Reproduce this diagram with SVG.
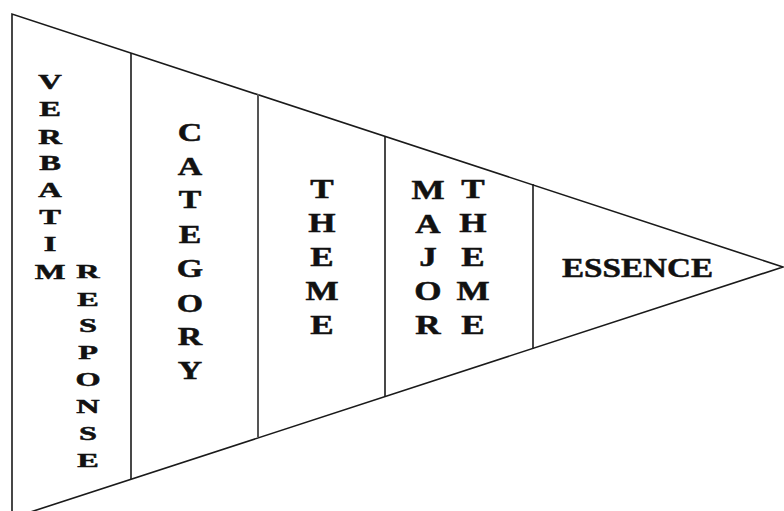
<svg xmlns="http://www.w3.org/2000/svg" width="784" height="511" viewBox="0 0 784 511">
<style>
.ln{fill:none;stroke:#1a1a1a;stroke-width:1.6;stroke-linejoin:miter}
.t{font-family:"Liberation Serif","Times New Roman",serif;font-weight:bold;fill:#111;stroke:#111;stroke-width:0.5;text-anchor:middle}
.s1{font-size:21px}
.s2{font-size:19px}
.s3{font-size:26px}
.s4{font-size:27px}
</style>
<rect width="784" height="511" fill="#fff"/>
<g id="connectors">
<polyline class="ln" points="12,530 12,14 783,267 12,518"/>
<line class="ln" x1="131" y1="53" x2="131" y2="479"/>
<line class="ln" x1="258" y1="94" x2="258" y2="437" style="stroke:#555;stroke-width:2"/>
<line class="ln" x1="385" y1="136" x2="385" y2="397"/>
<line class="ln" x1="533" y1="184" x2="533" y2="349"/>
</g>
<g id="verbatim-response">
<g transform="translate(50,0) scale(1.55,1)">
<text class="t s1" x="0" y="89">V</text>
<text class="t s1" x="0" y="116">E</text>
<text class="t s1" x="0" y="144">R</text>
<text class="t s1" x="0" y="170">B</text>
<text class="t s1" x="0" y="197">A</text>
<text class="t s1" x="0" y="224">T</text>
<text class="t s1" x="0" y="251">I</text>
<text class="t s1" x="0" y="279">M</text>
</g>
<g transform="translate(88,0) scale(1.7,1)">
<text class="t s2" x="0" y="278">R</text>
<text class="t s2" x="0" y="306">E</text>
<text class="t s2" x="0" y="332">S</text>
<text class="t s2" x="0" y="359">P</text>
<text class="t s2" x="0" y="386">O</text>
<text class="t s2" x="0" y="413">N</text>
<text class="t s2" x="0" y="440">S</text>
<text class="t s2" x="0" y="467">E</text>
</g>
</g>
<g id="category" transform="translate(190,0) scale(1.3,1)">
<text class="t s3" x="0" y="141">C</text>
<text class="t s3" x="0" y="175">A</text>
<text class="t s3" x="0" y="208">T</text>
<text class="t s3" x="0" y="243">E</text>
<text class="t s3" x="0" y="277">G</text>
<text class="t s3" x="0" y="312">O</text>
<text class="t s3" x="0" y="345">R</text>
<text class="t s3" x="0" y="379">Y</text>
</g>
<g id="theme" transform="translate(322,0) scale(1.3,1)">
<text class="t s4" x="0" y="198">T</text>
<text class="t s4" x="0" y="232">H</text>
<text class="t s4" x="0" y="266">E</text>
<text class="t s4" x="0" y="300">M</text>
<text class="t s4" x="0" y="334">E</text>
</g>
<g id="major-theme">
<g transform="translate(428,0) scale(1.3,1)">
<text class="t s4" x="0" y="199">M</text>
<text class="t s4" x="0" y="233">A</text>
<text class="t s4" x="0" y="266">J</text>
<text class="t s4" x="0" y="300">O</text>
<text class="t s4" x="0" y="334">R</text>
</g>
<g transform="translate(473,0) scale(1.3,1)">
<text class="t s4" x="0" y="198">T</text>
<text class="t s4" x="0" y="232">H</text>
<text class="t s4" x="0" y="266">E</text>
<text class="t s4" x="0" y="300">M</text>
<text class="t s4" x="0" y="334">E</text>
</g>
</g>
<g id="essence">
<text class="t" style="font-size:28px;text-anchor:start" x="562" y="277" textLength="151" lengthAdjust="spacingAndGlyphs">ESSENCE</text>
</g>
</svg>
